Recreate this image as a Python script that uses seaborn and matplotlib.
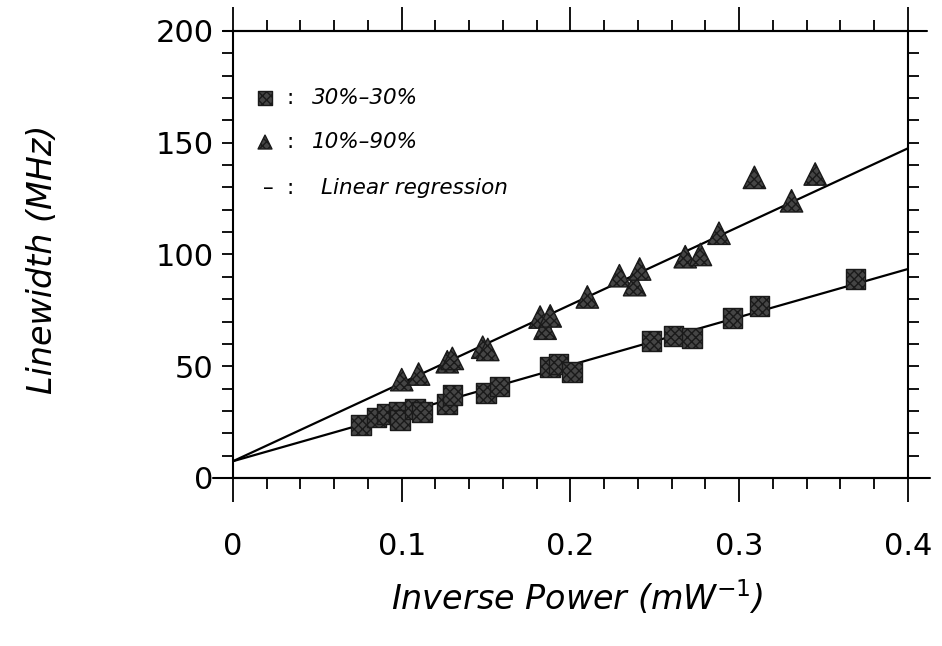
import numpy as np
import pandas as pd
import matplotlib
matplotlib.use("Agg")
import matplotlib.pyplot as plt
from matplotlib.ticker import MultipleLocator
import seaborn as sns

# Data
sq_x = [0.076, 0.085, 0.091, 0.098, 0.099, 0.108, 0.112, 0.127, 0.130, 0.150,
        0.158, 0.188, 0.193, 0.201, 0.248, 0.261, 0.272, 0.296, 0.312, 0.369]
sq_y = [23.7, 27.0, 28.5, 29.5, 26.0, 31.0, 29.5, 33.0, 37.0, 38.0,
        41.0, 49.7, 51.0, 47.5, 61.3, 63.5, 62.7, 71.6, 77.0, 89.0]

tri_x = [0.100, 0.110, 0.127, 0.130, 0.148, 0.151, 0.182, 0.185, 0.188, 0.210,
         0.229, 0.238, 0.241, 0.268, 0.277, 0.288, 0.309, 0.331, 0.345]
tri_y = [44.0, 46.5, 52.0, 53.5, 58.5, 57.5, 72.0, 67.0, 72.5, 81.0,
         90.5, 86.5, 93.5, 99.0, 100.0, 109.5, 134.5, 124.0, 136.0]

# linear regression lines (end points)
fit_x = [0.0, 0.4]
sq_fit = [7.5, 93.5]
tri_fit = [7.5, 147.5]

x_ticks = [0, 0.1, 0.2, 0.3, 0.4]
x_tick_labels = ["0", "0.1", "0.2", "0.3", "0.4"]
y_ticks = [0, 50, 100, 150, 200]

sns.set_theme(style="ticks")
plt.rcParams["font.family"] = ["DejaVu Sans"]
plt.rcParams["text.color"] = "black"
plt.rcParams["axes.labelcolor"] = "black"
plt.rcParams["xtick.color"] = "black"
plt.rcParams["ytick.color"] = "black"

fig = plt.figure(figsize=(9.42, 6.46), dpi=100)
ax = fig.add_axes([0.2473, 0.2601, 0.7166, 0.692])

sq_df = pd.DataFrame({"x": sq_x, "y": sq_y})
tri_df = pd.DataFrame({"x": tri_x, "y": tri_y})
fit_df = pd.DataFrame({"x": fit_x * 2, "y": sq_fit + tri_fit,
                       "set": ["sq", "sq", "tri", "tri"]})

sns.lineplot(data=fit_df, x="x", y="y", units="set", estimator=None,
             color="black", lw=1.6, ax=ax, legend=False)
sns.scatterplot(data=sq_df, x="x", y="y", marker="s", s=200,
                color="#454545", edgecolor="#1a1a1a", linewidth=1.0,
                hatch="xxxx", ax=ax, zorder=3)
sns.scatterplot(data=tri_df, x="x", y="y", marker="^", s=260,
                color="#454545", edgecolor="#1a1a1a", linewidth=1.0,
                hatch="xxxx", ax=ax, zorder=3)

# axis lines run a little past the frame, like the original plot
ax.plot([-0.012, 0.413], [0, 0], color="black", lw=1.5, clip_on=False)
ax.plot([-0.006, 0.411], [200, 200], color="black", lw=1.5, clip_on=False)

ax.set_xlim(0, 0.4)
ax.set_ylim(0, 200)
ax.set_xticks(x_ticks)
ax.set_xticklabels(x_tick_labels)
ax.set_yticks(y_ticks)
ax.xaxis.set_minor_locator(MultipleLocator(0.02))
ax.yaxis.set_minor_locator(MultipleLocator(10))
ax.tick_params(which="both", direction="out", top=True, right=True,
               labeltop=False, labelright=False, color="black", width=1.3)
ax.tick_params(axis="x", which="major", length=17, labelsize=22, pad=22)
ax.tick_params(axis="x", which="minor", length=8)
ax.tick_params(axis="y", which="both", length=8, labelsize=22, pad=6)
for sp in ax.spines.values():
    sp.set_visible(True)
    sp.set_linewidth(1.5)
    sp.set_color("black")

ax.set_xlabel(r"Inverse Power (mW$^{-1}$)", fontsize=24, style="italic")
ax.set_ylabel("Linewidth (MHz)", fontsize=24, style="italic")
ax.xaxis.set_label_coords(0.51, -0.225)
ax.yaxis.set_label_coords(-0.258, 0.49)

# legend drawn by hand, as in the original
ax.scatter([0.019], [170], marker="s", s=90, color="#454545",
           edgecolor="#1a1a1a", hatch="xxxx", zorder=3)
ax.scatter([0.019], [150.3], marker="^", s=100, color="#454545",
           edgecolor="#1a1a1a", hatch="xxxx", zorder=3)
for yy in [170, 150.3, 129.8]:
    ax.text(0.034, yy, ":", fontsize=15.5, va="center", ha="center")
ax.text(0.021, 129.8, "–", fontsize=15.5, va="center", ha="center")
ax.text(0.047, 170, "30%–30%", fontsize=15.5, style="italic", va="center")
ax.text(0.047, 150.3, "10%–90%", fontsize=15.5, style="italic", va="center")
ax.text(0.052, 129.8, "Linear regression", fontsize=15.5, style="italic",
        va="center")

fig.savefig("out.png", dpi=100)
